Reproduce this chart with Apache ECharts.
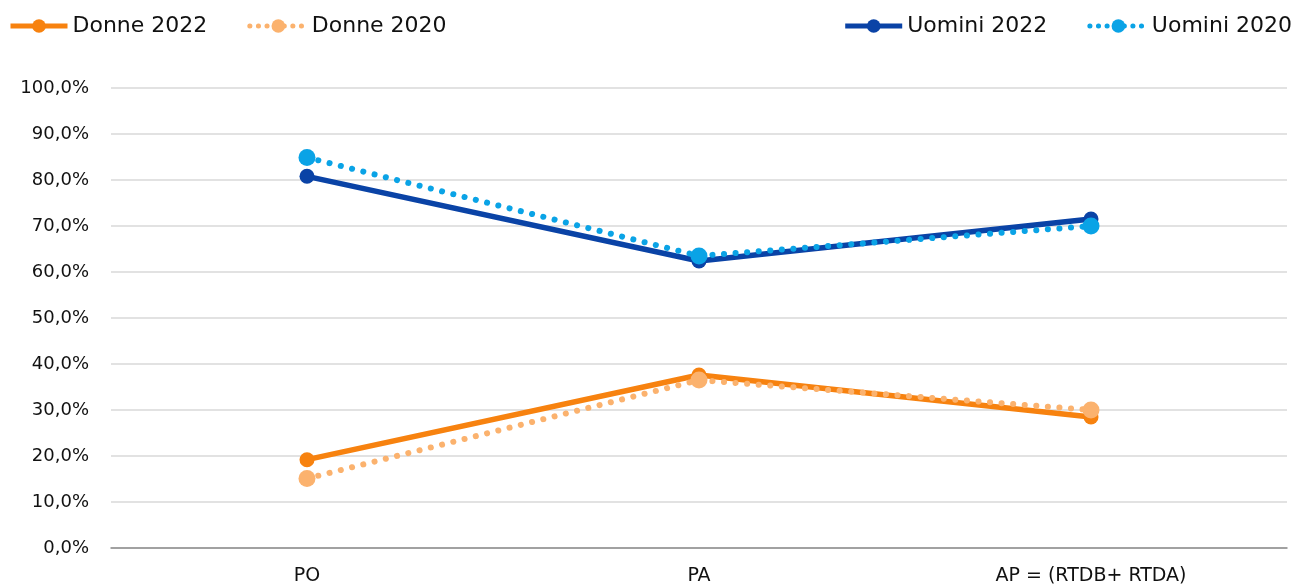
<!DOCTYPE html>
<html>
<head>
<meta charset="utf-8">
<style>
  html, body { margin: 0; padding: 0; background: #fff; }
  #chart { width: 1295px; height: 586px; }
</style>
<script src="https://cdn.jsdelivr.net/npm/echarts@6/dist/echarts.min.js"></script>
</head>
<body>
<div id="chart"></div>
<script>
// Quota percentuale per ruolo e genere
const categories = ['PO', 'PA', 'AP = (RTDB+ RTDA)'];
const donne2022 = [19.2, 37.6, 28.5];
const donne2020 = [15.1, 36.5, 30.0];
const uomini2022 = [80.8, 62.4, 71.5];
const uomini2020 = [84.9, 63.5, 70.0];

const FONT = '"DejaVu Sans", sans-serif';
const C_D22 = '#F7820F';
const C_D20 = '#FBB26E';
const C_U22 = '#0A43A6';
const C_U20 = '#0AA3E6';

const pct = v => v.toFixed(1).replace('.', ',') + '%';
const SOLID_LINE = { width: 5.5 };
const DOT_LINE = { width: 6, type: [0.1, 11.5], cap: 'round' };

function solid(name, data, color) {
  return {
    name, type: 'line', data,
    symbol: 'circle', symbolSize: 15,
    itemStyle: { color },
    lineStyle: Object.assign({ color }, SOLID_LINE),
    emphasis: { disabled: true },
    z: 2
  };
}
function dotted(name, data, color) {
  return {
    name, type: 'line', data,
    symbol: 'circle', symbolSize: 17,
    itemStyle: { color },
    lineStyle: Object.assign({ color }, DOT_LINE),
    emphasis: { disabled: true },
    z: 3
  };
}

const legendText = { fontFamily: FONT, fontSize: 22, color: '#111' };
const legendSolid = { width: 5 };
const legendDot = { width: 5, type: [0.1, 8.5], cap: 'round' };

const chart = echarts.init(document.getElementById('chart'));
chart.setOption({
  animation: false,
  legend: [
    { left: 3, top: 10, itemWidth: 57, itemHeight: 17, itemGap: 40,
      data: [
        { name: 'Donne 2022', lineStyle: legendSolid },
        { name: 'Donne 2020', lineStyle: legendDot }
      ], textStyle: legendText },
    { right: -2, top: 10, itemWidth: 57, itemHeight: 17, itemGap: 40,
      data: [
        { name: 'Uomini 2022', lineStyle: legendSolid },
        { name: 'Uomini 2020', lineStyle: legendDot }
      ], textStyle: legendText }
  ],
  grid: { left: 111, right: 8, top: 88, bottom: 38, containLabel: false },
  xAxis: {
    type: 'category', data: categories, boundaryGap: true,
    axisLine: { lineStyle: { color: '#8c8c8c', width: 1.5 } },
    axisTick: { show: false },
    axisLabel: { fontFamily: FONT, fontSize: 19, color: '#111', margin: 19 }
  },
  yAxis: {
    type: 'value', min: 0, max: 100, interval: 10,
    axisLine: { show: false }, axisTick: { show: false },
    splitLine: { lineStyle: { color: '#d9d9d9', width: 1.5 } },
    axisLabel: { fontFamily: FONT, fontSize: 18, color: '#111', margin: 22,
      formatter: pct }
  },
  series: [
    solid('Donne 2022', donne2022, C_D22),
    dotted('Donne 2020', donne2020, C_D20),
    solid('Uomini 2022', uomini2022, C_U22),
    dotted('Uomini 2020', uomini2020, C_U20)
  ]
});
</script>
</body>
</html>
